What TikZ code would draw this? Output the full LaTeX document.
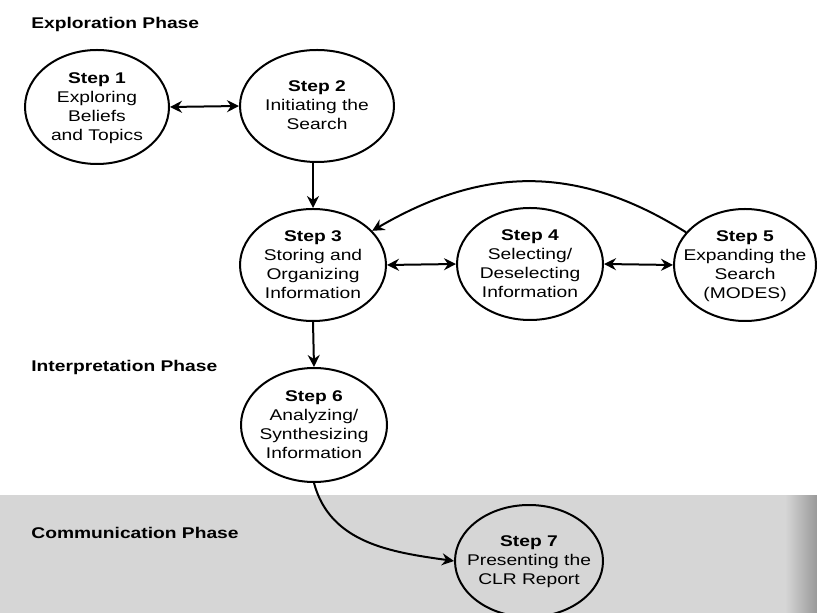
\documentclass[tikz,border=0pt]{standalone}
\usepackage{fontspec}
\setmainfont{Liberation Sans}[FakeStretch=1.24]
\usetikzlibrary{shapes.geometric,arrows.meta}
\newcommand{\steplabel}[2]{\makebox[0pt]{\smash{\raisebox{-2.5pt}{\begin{tabular}{@{}c@{}}\textbf{#1}\\#2\end{tabular}}}}}
\tikzset{
  stepnode/.style={draw, ellipse, line width=1pt, inner sep=0pt, font=\fontsize{7.75pt}{9.5pt}\selectfont},
  phase/.style={anchor=west, inner sep=0pt, font=\fontsize{7.75pt}{9.5pt}\selectfont\bfseries},
  conn/.style={line width=1pt, -{Stealth[length=6pt,width=6pt,inset=2pt]}},
  biconn/.style={line width=1pt, {Stealth[length=6pt,width=6pt,inset=2pt]}-{Stealth[length=6pt,width=6pt,inset=2pt]}},
}
\begin{document}
\begin{tikzpicture}[x=0.5pt,y=-0.5pt]
\useasboundingbox (0,0) rectangle (817,613);
\clip (0,0) rectangle (817,613);
% background band
\fill[black!16] (0,495) rectangle (817,613);
\shade[left color=black!16, right color=black!40] (785,495) rectangle (817,613);

% phase headings
\node[phase] (h1) at (31,25) {Exploration Phase};
\node[phase] (h2) at (31,367) {Interpretation Phase};
\node[phase] (h3) at (31,533) {Communication Phase};

% steps
\node[stepnode, minimum width=72pt, minimum height=57pt] (s1) at (97,107) {\steplabel{Step 1}{Exploring\\Beliefs\\and Topics}};
\node[stepnode, minimum width=77pt, minimum height=56pt] (s2) at (317,106) {\steplabel{Step 2}{Initiating the\\Search}};
\node[stepnode, minimum width=73pt, minimum height=56pt] (s3) at (313,265) {\steplabel{Step 3}{Storing and\\Organizing\\Information}};
\node[stepnode, minimum width=73pt, minimum height=56pt] (s4) at (530,264) {\steplabel{Step 4}{Selecting/\\Deselecting\\Information}};
\node[stepnode, minimum width=71pt, minimum height=56pt] (s5) at (745,265) {\steplabel{Step 5}{Expanding the\\Search\\(MODES)}};
\node[stepnode, minimum width=73pt, minimum height=57pt] (s6) at (314,425) {\steplabel{Step 6}{Analyzing/\\Synthesizing\\Information}};
\node[stepnode, minimum width=74pt, minimum height=56pt] (s7) at (529,561) {\steplabel{Step 7}{Presenting the\\CLR Report}};

% connectors
\draw[biconn] (s1.east) -- (s2.west);
\draw[conn] (s3.north |- s2.south) -- (s3.north);
\draw[biconn] (s3.east) -- (s4.west);
\draw[biconn] (s4.east) -- (s5.west);
\draw[conn] (s5.151) .. controls (579,165) and (485,165) .. (s3.30);
\draw[conn] (s3.south) -- (s6.north);
\draw[conn] (s6.south) to[out=-75, in=172] (s7.west);
\end{tikzpicture}
\end{document}
